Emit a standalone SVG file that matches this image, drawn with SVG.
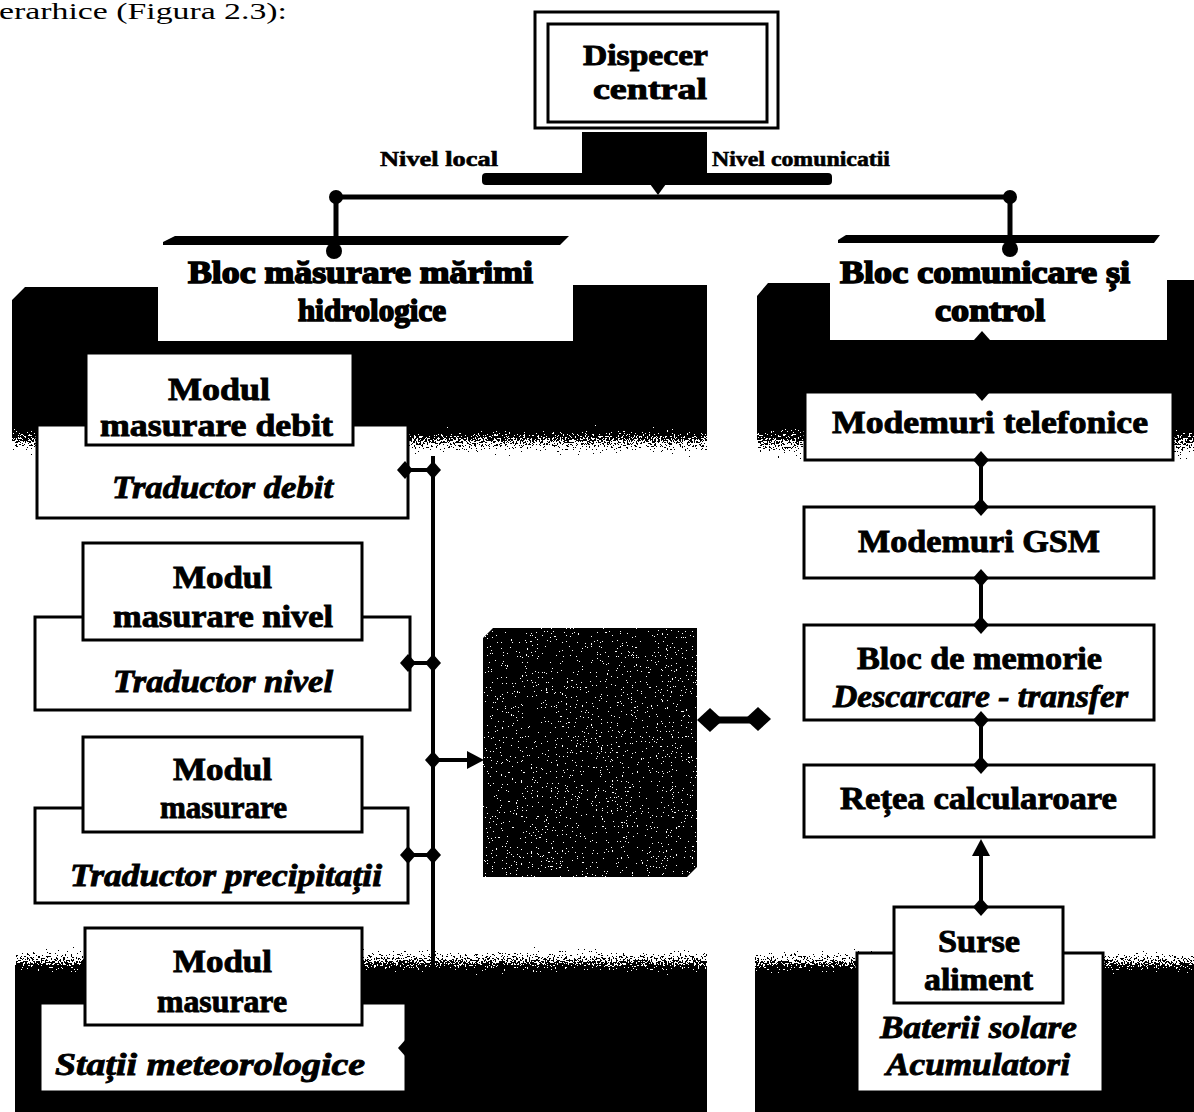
<svg xmlns="http://www.w3.org/2000/svg" xmlns:xlink="http://www.w3.org/1999/xlink" width="1194" height="1112" viewBox="0 0 1194 1112">
  <style>
    .t { font-family: "Liberation Serif", Tinos, "Times New Roman", Times, serif; font-weight: bold; font-size: 32px; fill: #000; stroke: #000; stroke-width: 0.9; }
    .h { stroke-width: 1.6; }
    .i { font-style: italic; }
    .s { font-size: 21px; stroke-width: 0.6; }
    .box { fill: #fff; stroke: #000; stroke-width: 3; }
    .ln { stroke: #000; stroke-width: 4; fill: none; }
    .bus { stroke: #000; stroke-width: 5; fill: none; }
    .ink { fill: #000; }
  </style>
  <defs>
    <path id="dm" d="M0,-9 L8,0 L0,9 L-8,0 Z"/>
    <path id="dmBig" d="M0,-12 L13,0 L0,12 L-13,0 Z"/>
    <linearGradient id="fadeDown" x1="0" y1="0" x2="0" y2="1">
      <stop offset="0" stop-color="#000" stop-opacity="1"/>
      <stop offset="1" stop-color="#000" stop-opacity="0"/>
    </linearGradient>
    <linearGradient id="fadeUp" x1="0" y1="0" x2="0" y2="1">
      <stop offset="0" stop-color="#000" stop-opacity="0"/>
      <stop offset="1" stop-color="#000" stop-opacity="1"/>
    </linearGradient>
    <!-- dithered edge of the shaded panels -->
    <filter id="grain" x="0" y="0" width="1" height="1" color-interpolation-filters="sRGB">
      <feTurbulence type="fractalNoise" baseFrequency="0.55" numOctaves="2" seed="7" result="n"/>
      <feColorMatrix in="n" type="matrix" values="0 0 0 0 0  0 0 0 0 0  0 0 0 0 0  1 0 0 0 0" result="na"/>
      <feComposite in="SourceGraphic" in2="na" operator="arithmetic" k1="0" k2="4" k3="-4" k4="0.5" result="c"/>
      <feComponentTransfer in="c" result="thr"><feFuncA type="discrete" tableValues="0 1"/></feComponentTransfer>
      <feFlood flood-color="#000" result="f"/>
      <feComposite in="f" in2="thr" operator="in"/>
    </filter>
    <!-- light speckles on the dark unit -->
    <filter id="speck" x="0" y="0" width="1" height="1" color-interpolation-filters="sRGB">
      <feTurbulence type="fractalNoise" baseFrequency="0.8" numOctaves="2" seed="3" result="t"/>
      <feColorMatrix in="t" type="matrix" values="0 0 0 0 1  0 0 0 0 1  0 0 0 0 1  5 0 0 0 -3.1" result="w"/>
      <feComponentTransfer in="w" result="wt"><feFuncA type="discrete" tableValues="0 1"/></feComponentTransfer>
      <feComposite in="wt" in2="SourceGraphic" operator="in"/>
    </filter>
  </defs>

  <rect width="1194" height="1112" fill="#fff"/>

  <!-- running text above the figure -->
  <text x="-1" y="19" style="font-family:'Liberation Serif',Tinos,'Times New Roman',serif;font-size:24px" textLength="288" lengthAdjust="spacingAndGlyphs">erarhice (Figura 2.3):</text>

  <!-- shaded panels -->
  <g id="panels">
    <path class="ink" d="M12,300 L25,287 L158,287 L158,341 L573,341 L573,285 L707,285 L707,420 L12,420 Z"/>
    <rect x="12" y="418" width="695" height="46" fill="url(#fadeDown)" filter="url(#grain)"/>
    <path class="ink" d="M757,296 L768,283 L830,283 L830,340 L1167,340 L1167,280 L1194,280 L1194,415 L757,415 Z"/>
    <rect x="757" y="413" width="437" height="58" fill="url(#fadeDown)" filter="url(#grain)"/>
    <rect x="15" y="940" width="692" height="42" fill="url(#fadeUp)" filter="url(#grain)"/>
    <rect class="ink" x="15" y="978" width="692" height="134"/>
    <rect x="755" y="942" width="439" height="40" fill="url(#fadeUp)" filter="url(#grain)"/>
    <rect class="ink" x="755" y="978" width="439" height="134"/>
  </g>

  <!-- top level -->
  <g id="dispecer">
    <rect class="box" x="535" y="12" width="243" height="116"/>
    <rect class="box" x="548" y="24" width="219" height="98"/>
    <text class="t" x="583" y="65" style="font-size:29px" textLength="125" lengthAdjust="spacingAndGlyphs">Dispecer</text>
    <text class="t" x="593" y="99" style="font-size:29px" textLength="114" lengthAdjust="spacingAndGlyphs">central</text>
  </g>

  <g id="interfata">
    <rect class="ink" x="582" y="132" width="125" height="42"/>
    <rect class="ink" x="482" y="173" width="350" height="12" rx="4"/>
    <path class="ink" d="M650,184 L666,184 L658,195 Z"/>
    <text class="t s" x="380" y="166" textLength="118" lengthAdjust="spacingAndGlyphs">Nivel local</text>
    <text class="t s" x="712" y="166" textLength="178" lengthAdjust="spacingAndGlyphs">Nivel comunicatii</text>
  </g>

  <!-- block titles -->
  <g id="bloc-masurare">
    <path class="ink" d="M163,242 L175,236 L569,236 L560,245 L163,245 Z"/>
    <text class="t h" x="188" y="283" textLength="345" lengthAdjust="spacingAndGlyphs">Bloc măsurare mărimi</text>
    <text class="t h" x="298" y="321" textLength="148" lengthAdjust="spacingAndGlyphs">hidrologice</text>
  </g>
  <g id="bloc-comunicare">
    <path class="ink" d="M838,240 L846,235 L1160,235 L1154,243 L838,243 Z"/>
    <text class="t h" x="840" y="283" textLength="290" lengthAdjust="spacingAndGlyphs">Bloc comunicare și</text>
    <text class="t h" x="935" y="321" textLength="110" lengthAdjust="spacingAndGlyphs">control</text>
  </g>

  <!-- measuring modules -->
  <g id="debit">
    <rect class="box" x="37" y="425" width="371" height="93"/>
    <rect class="box" x="86" y="353" width="267" height="92"/>
    <text class="t" x="168" y="400" textLength="102" lengthAdjust="spacingAndGlyphs">Modul</text>
    <text class="t" x="100" y="436" textLength="233" lengthAdjust="spacingAndGlyphs">masurare debit</text>
    <text class="t i" x="112" y="498" textLength="221" lengthAdjust="spacingAndGlyphs">Traductor debit</text>
  </g>
  <g id="nivel">
    <rect class="box" x="35" y="617" width="375" height="93"/>
    <rect class="box" x="83" y="543" width="279" height="97"/>
    <text class="t" x="173" y="588" textLength="99" lengthAdjust="spacingAndGlyphs">Modul</text>
    <text class="t" x="113" y="627" textLength="220" lengthAdjust="spacingAndGlyphs">masurare nivel</text>
    <text class="t i" x="113" y="692" textLength="220" lengthAdjust="spacingAndGlyphs">Traductor nivel</text>
  </g>
  <g id="precipitatii">
    <rect class="box" x="35" y="808" width="373" height="95"/>
    <rect class="box" x="83" y="737" width="279" height="95"/>
    <text class="t" x="173" y="780" textLength="99" lengthAdjust="spacingAndGlyphs">Modul</text>
    <text class="t" x="160" y="818" textLength="127" lengthAdjust="spacingAndGlyphs">masurare</text>
    <text class="t i" x="70" y="886" textLength="312" lengthAdjust="spacingAndGlyphs">Traductor precipitații</text>
  </g>
  <g id="meteo">
    <rect class="box" x="40" y="1003" width="366" height="89"/>
    <rect class="box" x="85" y="928" width="277" height="97"/>
    <text class="t" x="173" y="972" textLength="99" lengthAdjust="spacingAndGlyphs">Modul</text>
    <text class="t" x="157" y="1012" textLength="130" lengthAdjust="spacingAndGlyphs">masurare</text>
    <text class="t i" x="55" y="1075" textLength="310" lengthAdjust="spacingAndGlyphs">Stații meteorologice</text>
  </g>

  <!-- acquisition unit -->
  <g id="unitate">
    <path class="ink" d="M493,628 L697,628 L697,867 L687,877 L483,877 L483,638 Z"/>
    <rect x="483" y="628" width="214" height="249" fill="#000" filter="url(#speck)"/>
    <rect x="585" y="640" width="100" height="140" fill="#000" filter="url(#speck)"/>
  </g>

  <!-- communication chain -->
  <g id="modem-tel">
    <rect class="box" x="805" y="392" width="368" height="68"/>
    <text class="t" x="832" y="433" textLength="316" lengthAdjust="spacingAndGlyphs">Modemuri telefonice</text>
  </g>
  <g id="modem-gsm">
    <rect class="box" x="804" y="507" width="350" height="71"/>
    <text class="t" x="858" y="552" textLength="242" lengthAdjust="spacingAndGlyphs">Modemuri GSM</text>
  </g>
  <g id="memorie">
    <rect class="box" x="804" y="625" width="350" height="95"/>
    <text class="t" x="857" y="669" textLength="245" lengthAdjust="spacingAndGlyphs">Bloc de memorie</text>
    <text class="t i" x="833" y="707" textLength="295" lengthAdjust="spacingAndGlyphs">Descarcare - transfer</text>
  </g>
  <g id="retea">
    <rect class="box" x="804" y="765" width="350" height="72"/>
    <text class="t" x="840" y="809" textLength="277" lengthAdjust="spacingAndGlyphs">Rețea calcularoare</text>
  </g>
  <g id="surse">
    <rect class="box" x="857" y="953" width="246" height="139"/>
    <rect class="box" x="894" y="907" width="169" height="96"/>
    <text class="t" x="938" y="952" textLength="82" lengthAdjust="spacingAndGlyphs">Surse</text>
    <text class="t" x="924" y="990" textLength="109" lengthAdjust="spacingAndGlyphs">aliment</text>
    <text class="t i" x="880" y="1038" textLength="197" lengthAdjust="spacingAndGlyphs">Baterii solare</text>
    <text class="t i" x="886" y="1075" textLength="184" lengthAdjust="spacingAndGlyphs">Acumulatori</text>
  </g>

  <!-- connectors -->
  <g id="connectors">
    <!-- main distribution bus -->
    <path class="bus" d="M336,197 L1010,197 M336,197 L336,250 M1010,197 L1010,249"/>
    <circle class="ink" cx="336" cy="197" r="7"/>
    <circle class="ink" cx="1010" cy="197" r="7"/>
    <circle class="ink" cx="334" cy="251" r="8"/>
    <circle class="ink" cx="1010" cy="249" r="8"/>

    <!-- local measuring bus -->
    <path class="ln" d="M433,456 L433,985"/>
    <path class="ln" d="M405,470 L433,470 M408,663 L433,663 M408,855 L433,855 M433,760 L470,760"/>
    <use href="#dm" x="405" y="470"/>
    <use href="#dm" x="433" y="470"/>
    <use href="#dm" x="408" y="663"/>
    <use href="#dm" x="433" y="663"/>
    <use href="#dm" x="433" y="760"/>
    <use href="#dm" x="408" y="855"/>
    <use href="#dm" x="433" y="855"/>
    <path class="ink" d="M406,1039 L406,1057 L398,1048 Z"/>
    <path class="ink" d="M467,751 L484,760 L467,769 Z"/>

    <!-- unit output -->
    <path class="ln" d="M710,720 L758,720" style="stroke-width:7"/>
    <use href="#dmBig" x="710" y="720"/>
    <use href="#dmBig" x="758" y="719"/>

    <!-- communication chain links -->
    <path class="ln" d="M981,460 L981,507 M981,578 L981,625 M981,720 L981,765 M981,853 L981,907"/>
    <use href="#dm" x="982" y="340"/>
    <use href="#dm" x="982" y="392"/>
    <use href="#dm" x="981" y="460"/>
    <use href="#dm" x="981" y="507"/>
    <use href="#dm" x="981" y="578"/>
    <use href="#dm" x="981" y="625"/>
    <use href="#dm" x="981" y="720"/>
    <use href="#dm" x="981" y="765"/>
    <use href="#dm" x="981" y="907"/>
    <path class="ink" d="M981,839 L990,856 L972,856 Z"/>
  </g>
</svg>
